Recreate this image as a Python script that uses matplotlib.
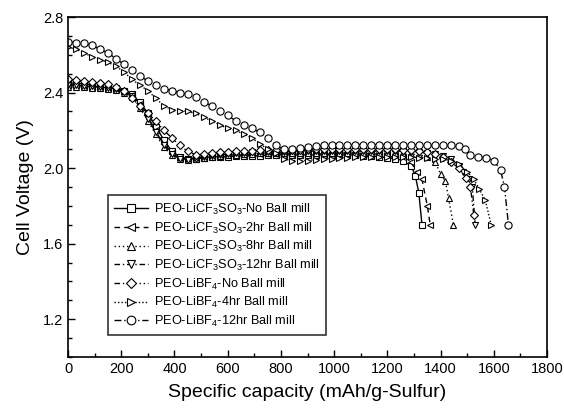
import matplotlib
matplotlib.use("Agg")
import matplotlib.pyplot as plt
from matplotlib.ticker import MultipleLocator

plt.rcParams['font.family'] = ['Liberation Sans', 'DejaVu Sans']
plt.rcParams['mathtext.fontset'] = 'custom'
plt.rcParams['mathtext.rm'] = 'Liberation Sans'

# capacity (mAh/g-S) and voltage (V)
cap_sq = [0, 30, 60, 90, 120, 150, 180, 210, 240, 270, 300, 330, 360, 390, 420, 450,
          480, 510, 540, 570, 600, 630, 660, 690, 720, 750, 780, 810, 840, 870, 900,
          930, 960, 990, 1020, 1050, 1080, 1110, 1140, 1170, 1200, 1230, 1260, 1290,
          1305, 1318, 1330]
v_sq = [2.44, 2.44, 2.435, 2.43, 2.43, 2.425, 2.42, 2.41, 2.39, 2.35, 2.29, 2.22, 2.15,
        2.09, 2.06, 2.05, 2.05, 2.055, 2.06, 2.06, 2.06, 2.065, 2.065, 2.065, 2.065, 2.07,
        2.07, 2.07, 2.07, 2.07, 2.07, 2.07, 2.07, 2.07, 2.07, 2.07, 2.07, 2.065, 2.065,
        2.06, 2.055, 2.05, 2.04, 2.01, 1.96, 1.87, 1.70]

cap_2h = [0, 30, 60, 90, 120, 150, 180, 210, 240, 270, 300, 330, 360, 390, 420, 450,
          480, 510, 540, 570, 600, 630, 660, 690, 720, 750, 780, 810, 840, 870, 900,
          930, 960, 990, 1020, 1050, 1080, 1110, 1140, 1170, 1200, 1230, 1260, 1290,
          1310, 1330, 1350, 1361]
v_2h = [2.45, 2.45, 2.445, 2.44, 2.435, 2.43, 2.425, 2.41, 2.385, 2.34, 2.27, 2.20, 2.13,
        2.08, 2.055, 2.05, 2.055, 2.06, 2.065, 2.065, 2.07, 2.07, 2.07, 2.075, 2.075, 2.075,
        2.075, 2.075, 2.075, 2.075, 2.075, 2.075, 2.075, 2.075, 2.075, 2.075, 2.075, 2.075,
        2.075, 2.075, 2.075, 2.07, 2.06, 2.03, 1.98, 1.94, 1.80, 1.70]

cap_8h = [0, 30, 60, 90, 120, 150, 180, 210, 240, 270, 300, 330, 360, 390, 420, 450,
          480, 510, 540, 570, 600, 630, 660, 690, 720, 750, 780, 810, 840, 870, 900,
          930, 960, 990, 1020, 1050, 1080, 1110, 1140, 1170, 1200, 1230, 1260, 1290,
          1320, 1350, 1380, 1400, 1418, 1430, 1448]
v_8h = [2.43, 2.43, 2.43, 2.425, 2.425, 2.42, 2.415, 2.40, 2.375, 2.32, 2.25, 2.18, 2.11,
        2.07, 2.05, 2.045, 2.05, 2.055, 2.06, 2.065, 2.07, 2.07, 2.075, 2.075, 2.08, 2.08,
        2.08, 2.08, 2.08, 2.08, 2.08, 2.08, 2.08, 2.08, 2.08, 2.08, 2.08, 2.08, 2.08, 2.08,
        2.08, 2.08, 2.075, 2.075, 2.07, 2.06, 2.03, 1.97, 1.93, 1.84, 1.70]

cap_12h = [0, 30, 60, 90, 120, 150, 180, 210, 240, 270, 300, 330, 360, 390, 420, 450,
           480, 510, 540, 570, 600, 630, 660, 690, 720, 750, 780, 810, 840, 870, 900,
           930, 960, 990, 1020, 1050, 1080, 1110, 1140, 1170, 1200, 1230, 1260, 1290,
           1320, 1350, 1380, 1410, 1440, 1470, 1485, 1505, 1519, 1530]
v_12h = [2.44, 2.44, 2.435, 2.435, 2.43, 2.425, 2.42, 2.405, 2.38, 2.33, 2.26, 2.19, 2.12,
         2.075, 2.05, 2.045, 2.05, 2.06, 2.065, 2.07, 2.075, 2.08, 2.08, 2.085, 2.085,
         2.085, 2.085, 2.085, 2.09, 2.09, 2.09, 2.09, 2.09, 2.09, 2.09, 2.09, 2.09, 2.09,
         2.09, 2.09, 2.09, 2.09, 2.09, 2.085, 2.085, 2.08, 2.075, 2.065, 2.05, 2.01, 1.98,
         1.94, 1.90, 1.70]

cap_bf0 = [0, 30, 60, 90, 120, 150, 180, 210, 240, 270, 300, 330, 360, 390, 420, 450,
           480, 510, 540, 570, 600, 630, 660, 690, 720, 750, 780, 810, 840, 870, 900,
           930, 960, 990, 1020, 1050, 1080, 1110, 1140, 1170, 1200, 1230, 1260, 1290,
           1320, 1350, 1380, 1410, 1440, 1470, 1495, 1512, 1525]
v_bf0 = [2.47, 2.465, 2.46, 2.455, 2.45, 2.445, 2.43, 2.41, 2.37, 2.33, 2.29, 2.25, 2.20,
         2.16, 2.12, 2.09, 2.07, 2.075, 2.08, 2.085, 2.085, 2.09, 2.09, 2.09, 2.095, 2.095,
         2.095, 2.095, 2.095, 2.095, 2.1, 2.1, 2.1, 2.1, 2.1, 2.1, 2.1, 2.1, 2.1, 2.1, 2.1,
         2.1, 2.095, 2.095, 2.09, 2.085, 2.075, 2.06, 2.03, 2.0, 1.95, 1.90, 1.75]

cap_bf4 = [0, 30, 60, 90, 120, 150, 180, 210, 240, 270, 300, 330, 360, 390, 420, 450,
           480, 510, 540, 570, 600, 630, 660, 690, 720, 750, 780, 810, 840, 870, 900,
           930, 960, 990, 1020, 1050, 1080, 1110, 1140, 1170, 1200, 1230, 1260, 1290,
           1320, 1350, 1380, 1410, 1440, 1470, 1500, 1525, 1545, 1568, 1590]
v_bf4 = [2.64, 2.63, 2.61, 2.59, 2.575, 2.56, 2.54, 2.51, 2.47, 2.44, 2.41, 2.37, 2.33,
         2.31, 2.305, 2.30, 2.29, 2.27, 2.25, 2.23, 2.21, 2.20, 2.18, 2.16, 2.13, 2.10,
         2.08, 2.05, 2.04, 2.04, 2.04, 2.045, 2.05, 2.05, 2.055, 2.055, 2.06, 2.06, 2.06,
         2.06, 2.06, 2.06, 2.06, 2.06, 2.055, 2.055, 2.05, 2.05, 2.04, 2.02, 1.98, 1.94,
         1.89, 1.83, 1.70]

cap_bf12 = [0, 30, 60, 90, 120, 150, 180, 210, 240, 270, 300, 330, 360, 390, 420, 450,
            480, 510, 540, 570, 600, 630, 660, 690, 720, 750, 780, 810, 840, 870, 900,
            930, 960, 990, 1020, 1050, 1080, 1110, 1140, 1170, 1200, 1230, 1260, 1290,
            1320, 1350, 1380, 1410, 1440, 1470, 1490, 1510, 1540, 1570, 1600, 1625, 1640,
            1655]
v_bf12 = [2.67, 2.665, 2.66, 2.65, 2.63, 2.61, 2.58, 2.55, 2.52, 2.49, 2.46, 2.44, 2.42,
          2.41, 2.40, 2.39, 2.375, 2.35, 2.33, 2.305, 2.28, 2.25, 2.23, 2.21, 2.19, 2.16,
          2.12, 2.10, 2.10, 2.105, 2.11, 2.115, 2.12, 2.12, 2.12, 2.12, 2.125, 2.125, 2.125,
          2.125, 2.125, 2.125, 2.125, 2.125, 2.12, 2.12, 2.12, 2.12, 2.12, 2.115, 2.10,
          2.07, 2.06, 2.055, 2.04, 1.99, 1.90, 1.70]

labels = ["PEO-LiCF$_3$SO$_3$-No Ball mill",
          "PEO-LiCF$_3$SO$_3$-2hr Ball mill",
          "PEO-LiCF$_3$SO$_3$-8hr Ball mill",
          "PEO-LiCF$_3$SO$_3$-12hr Ball mill",
          "PEO-LiBF$_4$-No Ball mill",
          "PEO-LiBF$_4$-4hr Ball mill",
          "PEO-LiBF$_4$-12hr Ball mill"]

series = [(cap_sq, v_sq), (cap_2h, v_2h), (cap_8h, v_8h), (cap_12h, v_12h),
          (cap_bf0, v_bf0), (cap_bf4, v_bf4), (cap_bf12, v_bf12)]
markers = ['s', '<', '^', 'v', 'D', '>', 'o']
msizes = [4.5, 5, 5, 5, 4.2, 5, 5.2]
styles = ['-', (0, (4, 3)), (0, (1, 2)), (0, (4, 2, 1, 2)), (0, (4, 2, 1, 2, 1, 2)),
          (0, (1, 1.5)), (0, (5, 2, 1, 2))]

fig = plt.figure(figsize=(5.64, 4.16), dpi=100)
ax = fig.add_axes([0.1206, 0.1418, 0.8494, 0.8172])

for (x, y), lab, mk, ms, ls in zip(series, labels, markers, msizes, styles):
    ax.plot(x, y, linestyle=ls, color='black', linewidth=1.0, marker=mk,
            markersize=ms, markerfacecolor='white', markeredgecolor='black',
            markeredgewidth=0.8, label=lab)

ax.set_xlim(0, 1800)
ax.set_ylim(1.0, 2.8)
ax.xaxis.set_major_locator(MultipleLocator(200))
ax.xaxis.set_minor_locator(MultipleLocator(100))
ax.yaxis.set_major_locator(MultipleLocator(0.4))
ax.yaxis.set_minor_locator(MultipleLocator(0.1))
ax.set_yticks([1.2, 1.6, 2.0, 2.4, 2.8])
ax.tick_params(which='both', direction='in', top=False, right=False, labelsize=10.5,
               width=1.0)
ax.tick_params(which='major', length=5)
ax.tick_params(which='minor', length=3)
for sp in ax.spines.values():
    sp.set_linewidth(1.2)

ax.set_xlabel("Specific capacity (mAh/g-Sulfur)", fontsize=14, labelpad=6)
ax.set_ylabel("Cell Voltage (V)", fontsize=14, labelpad=6)

leg = ax.legend(loc='lower left', bbox_to_anchor=(0.07, 0.045), fontsize=9.2,
                frameon=True, fancybox=False, edgecolor='black', handlelength=2.6,
                borderpad=0.5, labelspacing=0.28, handletextpad=0.5, markerscale=1.2)
leg.get_frame().set_linewidth(1.2)

fig.savefig("out.png", dpi=100)
